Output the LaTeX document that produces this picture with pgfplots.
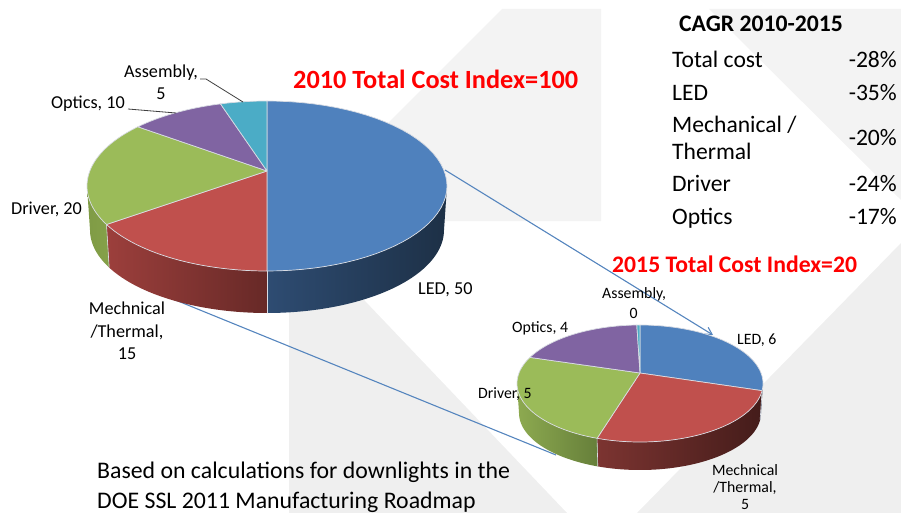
\documentclass[border=0pt]{standalone}
\usepackage{pgfplots}
\pgfplotsset{compat=1.18}
\usepackage{fontspec}
\setmainfont{Carlito}
\usetikzlibrary{arrows.meta}
\definecolor{cLED}{HTML}{4F81BD}
\definecolor{cMech}{HTML}{C0504D}
\definecolor{cDrv}{HTML}{9BBB59}
\definecolor{cOpt}{HTML}{8064A2}
\definecolor{cAsm}{HTML}{4BACC6}
\definecolor{rim}{HTML}{D9DCE3}
\definecolor{wmA}{HTML}{F3F3F3}
\definecolor{wmB}{HTML}{EFEFEF}
\definecolor{conn}{HTML}{5585BE}
\definecolor{leaderc}{HTML}{404040}
% side gradients
\definecolor{ledA}{HTML}{2E4C72}\definecolor{ledB}{HTML}{1D3046}
\definecolor{mechA}{HTML}{9C3F3C}\definecolor{mechB}{HTML}{672927}
\definecolor{drvA}{HTML}{7F9B45}\definecolor{drvB}{HTML}{85A149}
\definecolor{mechC}{HTML}{7C3431}\definecolor{mechD}{HTML}{441C1A}
\definecolor{drvC}{HTML}{8DAA50}\definecolor{drvD}{HTML}{667F3A}
\def\kk{0.83}
\newcommand\arcpts[6]{%
  \foreach \k in {0,...,48}{%
    \pgfmathsetmacro\ang{#5+(#6-#5)/48*\k}%
    \pgfmathsetmacro\px{#1+#3*sin(\ang)}%
    \pgfmathsetmacro\py{#2-#4*cos(\ang)}%
    \xdef\ptlist{\ptlist (\px,\py)}%
  }}
% #1 cx, #2 cy, #3 rx, #4 ry, #5 apex y, #6 lower-rim centre y, #7 lower rx, #8 lower ry, #9 {total}{list}
\newcommand\drawpie[9]{\drawpieii{#1}{#2}{#3}{#4}{#5}{#6}{#7}{#8}#9}
\newcommand\drawpieii[9]{\def\pA{#1}\def\pB{#2}\def\pC{#3}\def\pD{#4}\def\pE{#5}\def\pF{#6}\def\pG{#7}\def\pH{#8}\def\pT{#9}\drawpieiii}
\newcommand\drawpieiii[1]{%
  \xdef\cum{0}%
  \foreach \val/\topc/\sideL/\sideR in {#1}{%
    \pgfmathsetmacro\ra{2*atan2(\kk*sin(\cum/\pT*180),cos(\cum/\pT*180))}%
    \pgfmathsetmacro\nextc{\cum+\val}%
    \pgfmathsetmacro\rb{2*atan2(\kk*sin(\nextc/\pT*180),cos(\nextc/\pT*180))}%
    \xdef\cum{\nextc}%
    \pgfmathsetmacro\sa{max(\ra,90)}%
    \pgfmathsetmacro\sb{min(\rb,270)}%
    \ifdim\sb pt>\sa pt\relax
      \gdef\ptlist{}%
      \arcpts{\pA}{\pB}{\pC}{\pD}{\sa}{\sb}%
      \arcpts{\pA}{\pF}{\pG}{\pH}{\sb}{\sa}%
      \edef\temp{\noexpand\addplot[draw=none,left color=\sideL,right color=\sideR] coordinates {\ptlist};}\temp
    \fi
  }%
  \xdef\cum{0}%
  \foreach \val/\topc/\sideL/\sideR in {#1}{%
    \pgfmathsetmacro\ra{2*atan2(\kk*sin(\cum/\pT*180),cos(\cum/\pT*180))}%
    \pgfmathsetmacro\nextc{\cum+\val}%
    \pgfmathsetmacro\rb{2*atan2(\kk*sin(\nextc/\pT*180),cos(\nextc/\pT*180))}%
    \xdef\cum{\nextc}%
    \ifdim\ra pt>90pt\relax\ifdim\ra pt<270pt\relax
      \pgfmathsetmacro\sxa{\pA+\pC*sin(\ra)}\pgfmathsetmacro\sya{\pB-\pD*cos(\ra)}%
      \pgfmathsetmacro\sxb{\pA+\pG*sin(\ra)}\pgfmathsetmacro\syb{\pF-\pH*cos(\ra)}%
      \edef\temp{\noexpand\addplot[draw=rim,line width=.6pt] coordinates {(\sxa,\sya)(\sxb,\syb)};}\temp
    \fi\fi
    \xdef\ptlist{(\pA,\pE)}%
    \arcpts{\pA}{\pB}{\pC}{\pD}{\ra}{\rb}%
    \xdef\ptlist{\ptlist (\pA,\pE)}%
    \edef\temp{\noexpand\addplot[fill=\topc,draw=rim,line width=.7pt,line join=round] coordinates {\ptlist};}\temp
  }%
}
\newcommand\lab[5]{\node[anchor=#1,inner sep=0pt,font=\fontsize{#4}{#4}\selectfont] at (axis cs:#2,#3) {#5};}
\begin{document}
\begin{tikzpicture}
\useasboundingbox (0,0) rectangle (901pt,513pt);
\clip (0,0) rectangle (901pt,513pt);
\begin{axis}[at={(0,0)},anchor=south west,scale only axis,width=901pt,height=513pt,
  xmin=0,xmax=901,ymin=0,ymax=513,y dir=reverse,hide axis]
% watermark
\addplot[fill=wmA,draw=none] coordinates {(502,9)(601,9)(601,221)(290,221)};
\addplot[fill=wmA,draw=none] coordinates {(709,9)(901,9)(901,200)};
\addplot[fill=wmB,draw=none] coordinates {(289,280)(345,280)(567,513)(289,513)};
\addplot[fill=wmB,draw=none] coordinates {(901,243)(901,513)(637,513)};
% connectors
\addplot[conn,line width=1.1pt] coordinates {(168,297)(556,455)};
\addplot[conn,line width=1.1pt,-{Straight Barb[length=7pt,width=8pt]}] coordinates {(445,170)(713,335)};
% pies
\drawpie{267}{186}{180}{85}{171}{230}{177}{83}{{100}{50/cLED/ledA/ledB,15/cMech/mechA/mechB,20/cDrv/drvA/drvB,10/cOpt/drvA/drvB,5/cAsm/drvA/drvB}}
\drawpie{640}{383.5}{123}{58.5}{373}{413}{121}{57}{{20.1}{6/cLED/ledA/ledB,5/cMech/mechC/mechD,5/cDrv/drvC/drvD,4/cOpt/drvA/drvB,0.1/cAsm/drvA/drvB}}
% leader lines
\addplot[leaderc,line width=.8pt] coordinates {(200,79)(206,79)(243,102)};
\addplot[leaderc,line width=.8pt] coordinates {(128,109)(176,113)};
% data labels
\lab{base west}{124}{78}{18.2}{Assembly,}
\lab{base}{161}{100}{18.2}{5}
\lab{base west}{51}{109}{18.2}{Optics, 10}
\lab{base west}{11}{214}{18.2}{Driver, 20}
\lab{base west}{418}{294}{18.2}{LED, 50}
\lab{base}{127}{314}{18.2}{Mechnical}
\lab{base}{127}{337}{18.2}{/Thermal,}
\lab{base}{127}{359}{18.2}{15}
\lab{base west}{602}{298}{15.8}{Assembly,}
\lab{base}{633.5}{318}{15.8}{0}
\lab{base west}{512}{332}{15.8}{Optics, 4}
\lab{base west}{478}{398}{15.8}{Driver, 5}
\lab{base west}{737}{344}{15.8}{LED, 6}
\lab{base}{745}{475}{15.8}{Mechnical}
\lab{base}{745}{492}{15.8}{/Thermal,}
\lab{base}{745}{509}{15.8}{5}
% titles
\node[anchor=base west,inner sep=0pt,text=red,font=\fontsize{26.3}{26.3}\selectfont\bfseries] at (axis cs:293,88.5) {2010 Total Cost Index=100};
\node[anchor=base west,inner sep=0pt,text=red,font=\fontsize{23.7}{23.7}\selectfont\bfseries] at (axis cs:612,272.5) {2015 Total Cost Index=20};
% CAGR table
\node[anchor=base west,inner sep=0pt,font=\fontsize{23.7}{23.7}\selectfont\bfseries] at (axis cs:679,32) {CAGR 2010-2015};
\lab{base west}{672}{68}{23.6}{Total cost}
\lab{base west}{672}{101}{23.6}{LED}
\lab{base west}{672}{133}{23.6}{Mechanical /}
\lab{base west}{672}{160}{23.6}{Thermal}
\lab{base west}{672}{191}{23.6}{Driver}
\lab{base west}{672}{224}{23.6}{Optics}
\lab{base east}{897}{68}{23.6}{-28\%}
\lab{base east}{897}{101}{23.6}{-35\%}
\lab{base east}{897}{146}{23.6}{-20\%}
\lab{base east}{897}{191}{23.6}{-24\%}
\lab{base east}{897}{224}{23.6}{-17\%}
% note
\lab{base west}{97}{478}{23.8}{Based on calculations for downlights in the}
\lab{base west}{97}{508}{23.8}{DOE SSL 2011 Manufacturing Roadmap}
\end{axis}
\end{tikzpicture}
\end{document}
